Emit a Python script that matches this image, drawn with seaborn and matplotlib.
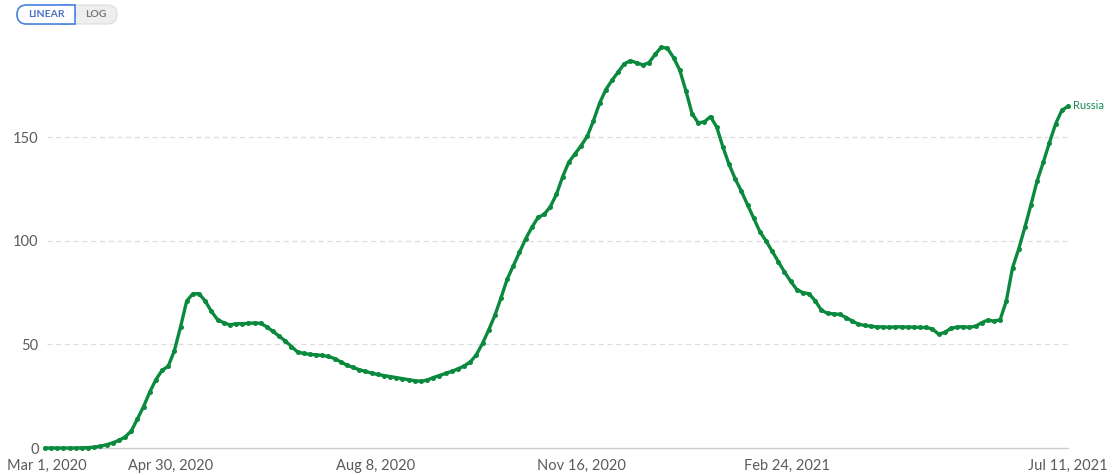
import pandas as pd
import matplotlib.pyplot as plt
import seaborn as sns
from matplotlib.patches import FancyBboxPatch

# Russia, readings every 3 days, ending Jul 11, 2021
values = [0, 0, 0, 0, 0, 0, 0.1, 0.2, 0.4, 0.9,
          1.6, 2.5, 3.7, 5.3, 8.2, 14, 20, 27, 33, 37.5,
          39.5, 47, 58.5, 71, 74.5, 74.5, 71, 66, 62, 60.5,
          59.5, 60, 60, 60.2, 60.4, 60.2, 58.5, 56.3, 54, 51.7,
          49, 46.3, 45.7, 45.2, 45, 44.7, 44.2, 43.2, 41.6, 40,
          38.9, 37.8, 37, 36.2, 35.5, 35, 34.5, 34, 33.5, 33,
          32.5, 32.2, 32.8, 34, 35, 36, 37, 38.2, 39.6, 41.5,
          45, 50.5, 57, 64, 72.5, 81.5, 88, 94.5, 101, 106.5,
          111.3, 112.8, 116.5, 122.5, 131, 138, 142, 146, 150.5, 158,
          166.5, 173, 177.5, 181.5, 185.5, 187, 186, 185, 186, 190,
          193.5, 193, 188.5, 182.5, 172.5, 161.5, 157, 157.5, 160, 155,
          145.4, 137, 130, 124, 117.5, 111, 104.5, 100, 95, 90,
          85, 80.5, 76.5, 75, 74.5, 71, 66.5, 65, 64.8, 64.5,
          63, 61.3, 59.8, 59.2, 58.8, 58.5, 58.5, 58.3, 58.5, 58.5,
          58.4, 58.4, 58.2, 58.2, 57.5, 55, 55.8, 57.8, 58.4, 58.6,
          58.3, 58.8, 60.5, 61.8, 61.2, 62, 71, 87, 96, 106.5,
          117.5, 129, 138, 147.5, 156.5, 163, 165]
dates = pd.date_range(end='2021-07-11', periods=len(values), freq='3D')

tick_dates = pd.to_datetime(['2020-03-01', '2020-04-30', '2020-08-08',
                             '2020-11-16', '2021-02-24', '2021-07-11'])
tick_labels = ['Mar 1, 2020', 'Apr 30, 2020', 'Aug 8, 2020',
               'Nov 16, 2020', 'Feb 24, 2021', 'Jul 11, 2021']
y_ticks = [0, 50, 100, 150]

GREEN = '#0b8a3e'

sns.set_style('white')
plt.rcParams['font.family'] = ['Lato', 'DejaVu Sans']

fig = plt.figure(figsize=(11.17, 4.75), dpi=100)
ax = fig.add_axes([0.0421, 0.0568, 0.9140, 0.8590])

sns.lineplot(x=dates, y=values, ax=ax, color=GREEN, linewidth=2.4,
             marker='o', markersize=3.6, markeredgewidth=0, clip_on=False,
             zorder=4)

ax.set_xlim(pd.Timestamp('2020-03-01'), pd.Timestamp('2021-07-11'))
ax.set_ylim(0, 197)
ax.set_xticks(tick_dates)
ax.set_xticklabels(tick_labels)
ax.set_yticks(y_ticks)
ax.set_xlabel('')
ax.set_ylabel('')

for v in y_ticks[1:]:
    ax.axhline(v, color='#dddddd', linewidth=0.9, linestyle=(0, (4, 3)), zorder=0)

for s in ['top', 'right', 'left']:
    ax.spines[s].set_visible(False)
ax.spines['bottom'].set_color('#cccccc')
ax.spines['bottom'].set_linewidth(1)

ax.tick_params(axis='x', colors='#5b5b5b', labelsize=10.5, length=5,
               width=0.8, pad=3, color='#cccccc')
ax.tick_params(axis='y', colors='#5b5b5b', labelsize=10.5, length=0, pad=6)

ax.text(pd.Timestamp('2021-07-11') + pd.Timedelta(days=2.5), values[-1] + 0.5,
        'Russia', color='#1a8a5a', fontsize=8, va='center', ha='left')

# LINEAR / LOG toggle, drawn in pixel coordinates
H = 475
pill = FancyBboxPatch((17, H - 24), 100, 19, boxstyle='round,pad=0,rounding_size=9.5',
                      transform=None, facecolor='#eeeeee', edgecolor='#dcdcdc',
                      linewidth=0.8)
lin = FancyBboxPatch((17, H - 24), 58, 19, boxstyle='round,pad=0,rounding_size=9.5',
                     transform=None, facecolor='white', edgecolor='#4a83e0',
                     linewidth=1.2)
lin_sq = FancyBboxPatch((62, H - 24), 13, 19, boxstyle='square,pad=0',
                        transform=None, facecolor='white', edgecolor='none')
fig.patches.extend([pill, lin, lin_sq])
fig.add_artist(plt.Line2D([75, 75], [H - 24, H - 5], transform=None,
                          color='#4a83e0', linewidth=1.2))
fig.add_artist(plt.Line2D([62, 75], [H - 24, H - 24], transform=None,
                          color='#4a83e0', linewidth=1.2))
fig.add_artist(plt.Line2D([62, 75], [H - 5, H - 5], transform=None,
                          color='#4a83e0', linewidth=1.2))
fig.text(46 / 1117, 1 - 14.5 / H, 'LINEAR', color='#4a6fc0', fontsize=7.5,
         fontweight='bold', ha='center', va='center')
fig.text(96 / 1117, 1 - 14.5 / H, 'LOG', color='#777777', fontsize=7.5,
         fontweight='bold', ha='center', va='center')

fig.savefig('out.png', dpi=100)
